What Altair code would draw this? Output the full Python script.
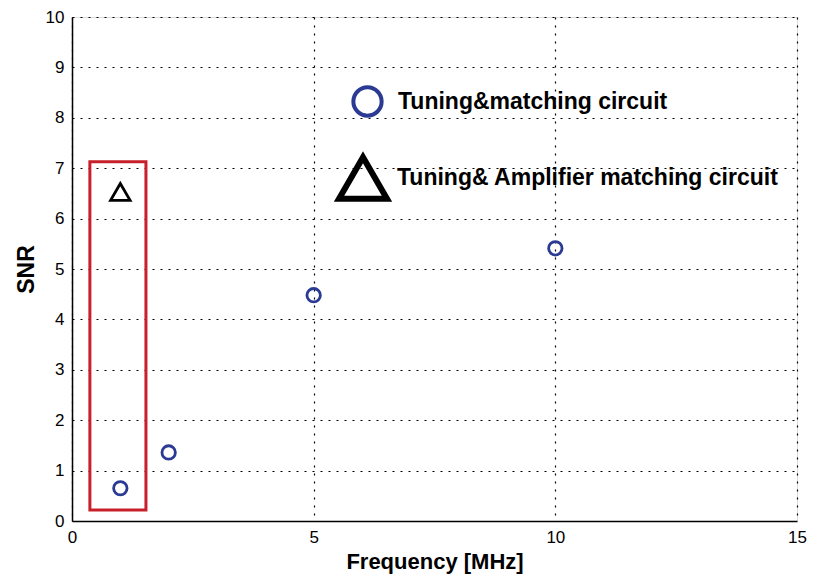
import altair as alt
import pandas as pd

# ---- data ----
freq_tm = [1, 2, 5, 10]
snr_tm = [0.65, 1.36, 4.48, 5.41]
freq_amp = [1]
snr_amp = [6.53]
series_names = ["Tuning&matching circuit", "Tuning& Amplifier matching circuit"]
box_x = [0.37, 1.53]
box_y = [0.22, 7.13]
x_ticks = [0, 5, 10, 15]
y_ticks = [0, 1, 2, 3, 4, 5, 6, 7, 8, 9, 10]

df_tm = pd.DataFrame({"freq": freq_tm, "snr": snr_tm, "series": [series_names[0]] * len(freq_tm)})
df_amp = pd.DataFrame({"freq": freq_amp, "snr": snr_amp, "series": [series_names[1]] * len(freq_amp)})
box = pd.DataFrame({"x": [box_x[0]], "x2": [box_x[1]], "y": [box_y[0]], "y2": [box_y[1]]})

FONT = "Liberation Sans"
BLUE = "#2b3a93"

x_scale = alt.Scale(domain=[0, 15], nice=False, zero=False)
y_scale = alt.Scale(domain=[0, 10], nice=False, zero=False)

x_axis = alt.Axis(values=x_ticks, title="Frequency [MHz]", grid=True, gridDash=[2, 6],
                  gridColor="black", gridWidth=1.2, gridOpacity=1, ticks=False,
                  labelFontSize=17, labelFont=FONT, labelColor="black", labelPadding=8,
                  titleFontSize=22, titleFont=FONT, titleFontWeight="bold", titleColor="black",
                  titlePadding=6, domainColor="black", domainWidth=1.5, labelFlush=False)
y_axis = alt.Axis(values=y_ticks, title="SNR", grid=True, gridDash=[2, 6],
                  gridColor="black", gridWidth=1.2, gridOpacity=1, ticks=False,
                  labelFontSize=17, labelFont=FONT, labelColor="black", labelPadding=8,
                  titleFontSize=23, titleFont=FONT, titleFontWeight="bold", titleColor="black",
                  titlePadding=7, domainColor="black", domainWidth=1.5, labelFlush=False)

legend_tm = alt.Legend(
    title=None, orient="none", legendX=279, legendY=68, padding=0,
    labelFont=FONT, labelFontSize=23, labelFontWeight="bold", labelColor="black",
    labelLimit=0, symbolSize=800, symbolType="circle", symbolStrokeWidth=4,
    symbolStrokeColor=BLUE, symbolFillColor="transparent", labelOffset=14,
    symbolOpacity=1,
)
legend_amp = alt.Legend(
    title=None, orient="none", legendX=264, legendY=134, padding=0,
    labelFont=FONT, labelFontSize=23, labelFontWeight="bold", labelColor="black",
    labelLimit=0, symbolSize=2300, symbolStrokeWidth=6,
    symbolStrokeColor="#000000", symbolFillColor="transparent", labelOffset=7,
    symbolOpacity=1,
)

circles = alt.Chart(df_tm).mark_point(filled=False, strokeWidth=2.8, size=180, shape="circle",
                                      opacity=1).encode(
    x=alt.X("freq:Q", scale=x_scale, axis=x_axis),
    y=alt.Y("snr:Q", scale=y_scale, axis=y_axis),
    color=alt.Color("series:N", scale=alt.Scale(domain=[series_names[0]], range=[BLUE]),
                    legend=legend_tm),
)

triangles = alt.Chart(df_amp).mark_point(filled=False, strokeWidth=2.8, size=380, color="#000000",
                                         opacity=1).encode(
    x=alt.X("freq:Q", scale=x_scale),
    y=alt.Y("snr:Q", scale=y_scale),
    shape=alt.Shape("series:N", scale=alt.Scale(domain=[series_names[1]], range=["triangle-up"]),
                    legend=legend_amp),
)

rect = alt.Chart(box).mark_rect(fill=None, stroke="#c8202a", strokeWidth=3).encode(
    x=alt.X("x:Q", scale=x_scale), x2="x2:Q",
    y=alt.Y("y:Q", scale=y_scale), y2="y2:Q",
)

chart = alt.layer(rect, circles, triangles).resolve_scale(color="independent", shape="independent").properties(
    width=725, height=504,
    autosize=alt.AutoSizeParams(type="none"),
    padding={"left": 64, "top": 9, "right": 10, "bottom": 54},
).configure_view(stroke="black", strokeWidth=1.5).configure(background="white")

chart.save("out.html", embed_options={"renderer": "svg", "actions": False})
